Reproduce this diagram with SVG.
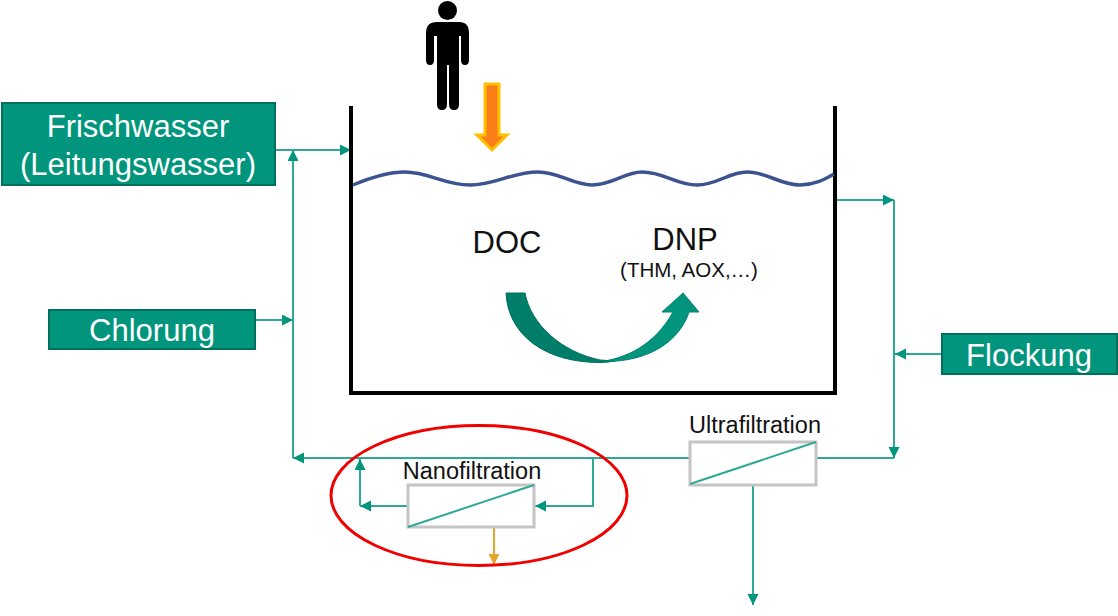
<svg xmlns="http://www.w3.org/2000/svg" width="1118" height="616" viewBox="0 0 1118 616">
<style>
text{font-family:"Liberation Sans",Arial,sans-serif;text-anchor:middle}
.box{fill:#00957c;stroke:#00705d;stroke-width:2}
.w{fill:#fff;font-size:31px}
.k{fill:#111}
.c{fill:none;stroke:#2fa996;stroke-width:2}
.filter{fill:#fff;stroke:#c4c4c4;stroke-width:3}
</style>
<defs>
<marker id="a" markerUnits="userSpaceOnUse" markerWidth="13" markerHeight="13" refX="11" refY="5.500" orient="auto"><path d="M0 0L11 5.500L0 11Z" fill="#00957c"/></marker>
<marker id="o" markerUnits="userSpaceOnUse" markerWidth="13" markerHeight="13" refX="11" refY="5.500" orient="auto"><path d="M0 0L11 5.500L0 11Z" fill="#e4a52c"/></marker>
</defs>
<g id="connectors">
<path class="c" d="M275 150H351" marker-end="url(#a)"/>
<path class="c" d="M293 458V150" marker-end="url(#a)"/>
<path class="c" d="M255 320H293" marker-end="url(#a)"/>
<path class="c" d="M690 458H293" marker-end="url(#a)"/>
<path class="c" d="M835 200H894" marker-end="url(#a)"/>
<path class="c" d="M894 200V458" marker-end="url(#a)"/>
<path class="c" d="M942 354H895" marker-end="url(#a)"/>
<path class="c" d="M894 458H816"/>
<path class="c" d="M753 485V605" marker-end="url(#a)"/>
<path class="c" d="M593 458V506H535" marker-end="url(#a)"/>
<path class="c" d="M407 506H360" marker-end="url(#a)"/>
<path class="c" d="M360 506V459" marker-end="url(#a)"/>
<path d="M494 527V565" fill="none" stroke="#e4a52c" stroke-width="2" marker-end="url(#o)"/>
</g>
<g id="tank">
<path d="M351 106V393H835V106" fill="none" stroke="#000" stroke-width="4"/>
<path d="M353 185C372 177 388 172 405 172C428 172 445 185 470 185C495 185 512 172 538 172C560 172 572 185 592 185C612 185 625 172 642 172C664 172 676 185 697 185C717 185 729 172 747 172C767 172 780 185 800 185C815 185 825 179 834 174" fill="none" stroke="#3b5491" stroke-width="3.500"/>
</g>
<g id="person" fill="#000">
<circle cx="447.500" cy="10.500" r="9.500"/>
<path d="M437 22H459Q469 22 469 33V60Q469 65 465 65Q461 65 461 60V36H459V104Q459 110 454 110Q449 110 449 104V65H447V104Q447 110 442 110Q437 110 437 104V36H434V60Q434 65 430 65Q426 65 426 60V33Q426 22 437 22Z"/>
</g>
<g id="arrow-down"><path d="M485 84H499V135H507L492 150L477 135H485Z" fill="#fb7f18" stroke="#ffc000" stroke-width="3"/></g>
<g id="frischwasser"><rect class="box" x="2" y="103" width="273" height="82"/><text class="w" x="138" y="137">Frischwasser</text><text class="w" x="138" y="175">(Leitungswasser)</text></g>
<g id="chlorung"><rect class="box" x="49" y="310" width="206" height="39"/><text class="w" x="152" y="341">Chlorung</text></g>
<g id="flockung"><rect class="box" x="942" y="334" width="175" height="40"/><text class="w" x="1029" y="366">Flockung</text></g>
<g id="doc"><text x="507" y="253" font-size="31" class="k">DOC</text></g>
<g id="dnp"><text x="685" y="250" font-size="31" class="k">DNP</text><text x="689" y="277" font-size="20.500" class="k">(THM, AOX,…)</text></g>
<g id="reaction">
<path d="M506 293H525C531 325 562 352 600 360L615 361Q607 362.500 600 362.500C545 362.500 508 335 506 293Z" fill="#007e69" stroke="#00705d"/>
<path d="M600 361.500C625 359 655 345 673 312H662L683 293L699 312H689C680 340 650 363 600 361.500Z" fill="#00957c" stroke="#00806b"/>
</g>
<g id="ultrafiltration"><text x="755" y="433" font-size="23.500" class="k">Ultrafiltration</text><rect class="filter" x="690" y="442" width="126" height="43"/><path class="c" d="M690 484L816 442"/></g>
<g id="nanofiltration"><text x="472" y="479" font-size="23.500" class="k">Nanofiltration</text><rect class="filter" x="408" y="485" width="126" height="42"/><path class="c" d="M408 527L534 485"/></g>
<ellipse id="highlight" cx="479" cy="495.500" rx="148" ry="70" fill="none" stroke="#f00000" stroke-width="3"/>
</svg>
